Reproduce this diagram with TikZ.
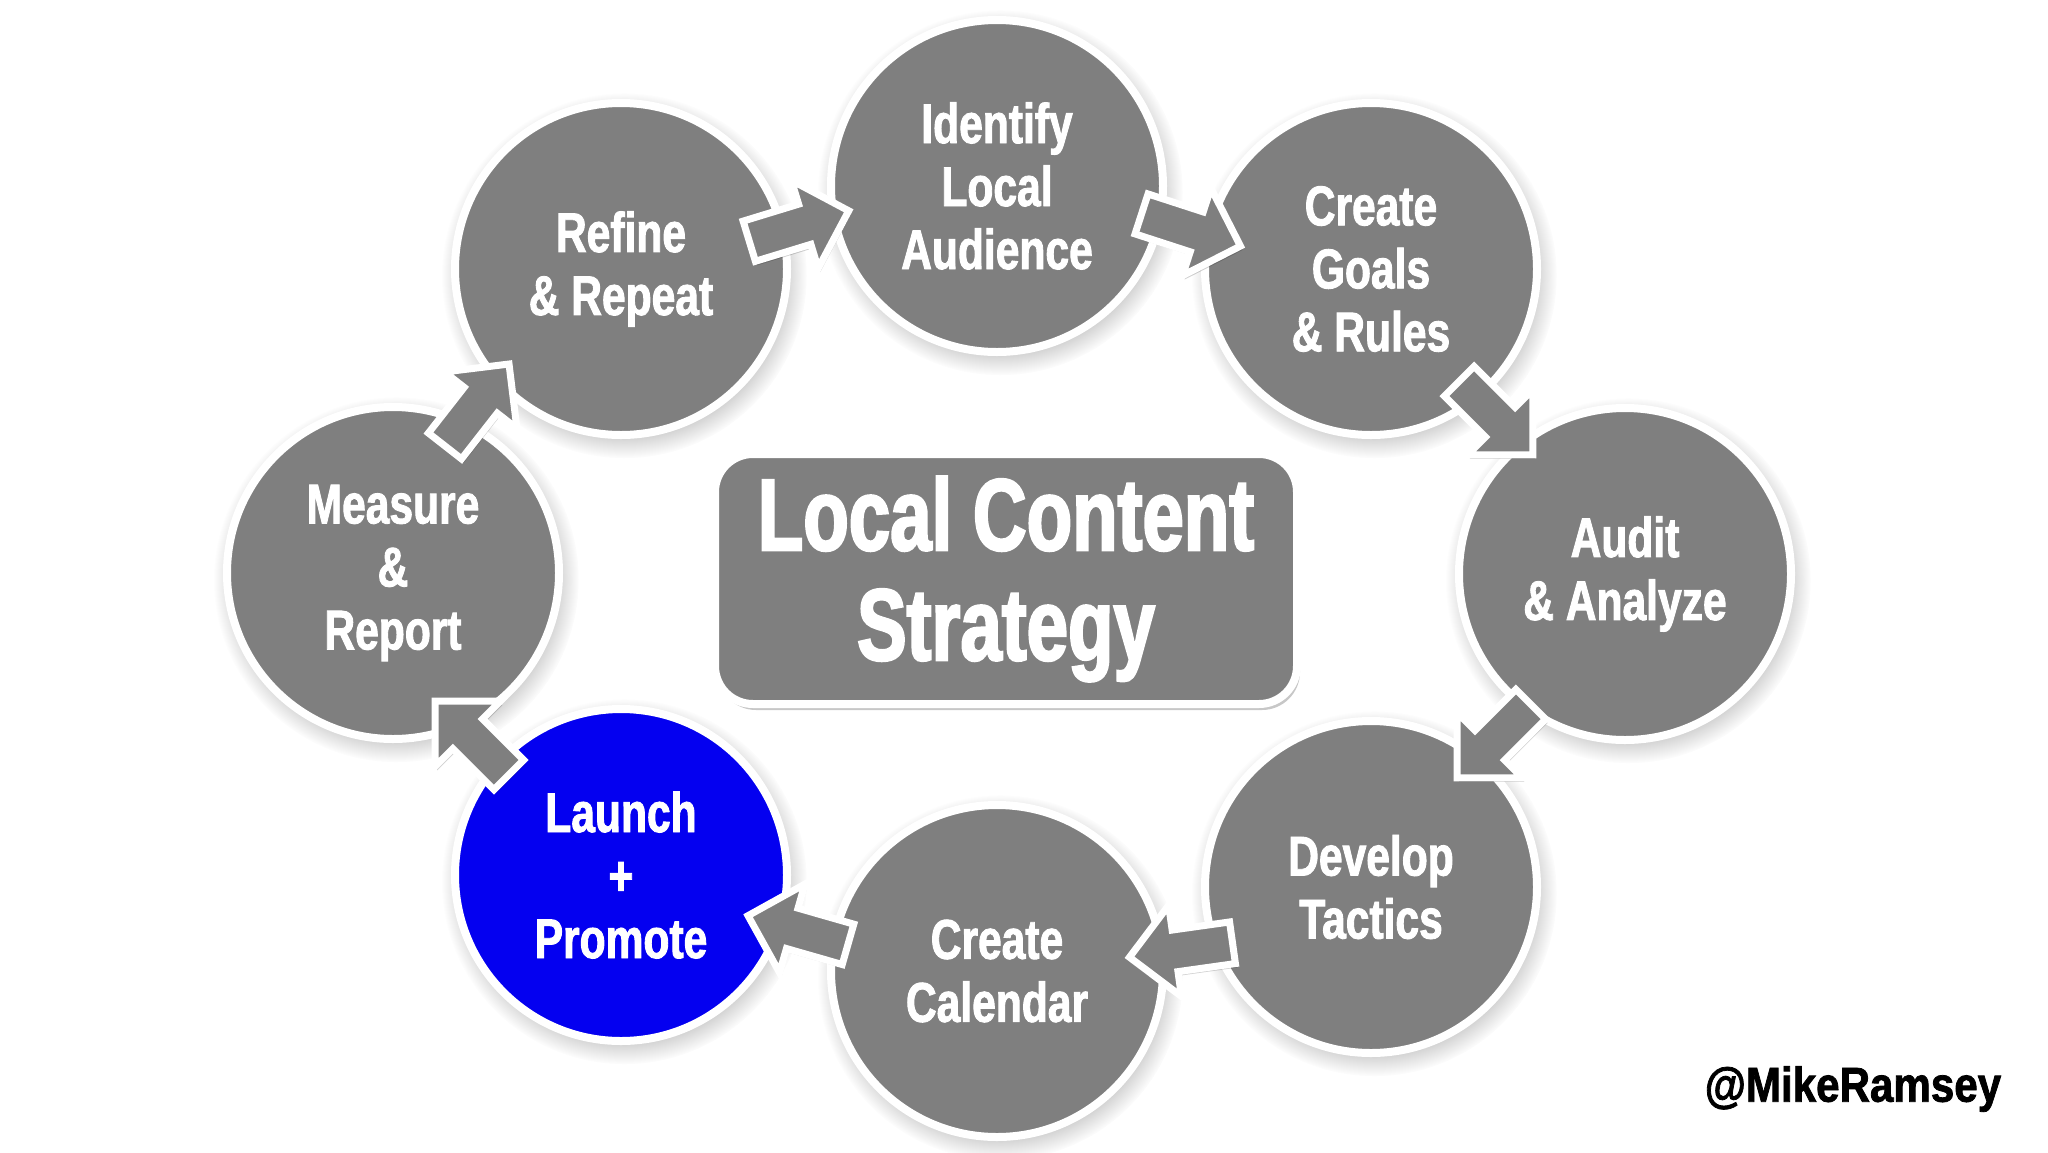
\documentclass[tikz,border=0pt]{standalone}
\usepackage{fontspec}
\newfontfamily\impactfont[FakeStretch=0.76,FakeBold=1.6]{Liberation Sans}
\newfontfamily\titlefont[FakeStretch=0.73,FakeBold=2.2]{Liberation Sans}
\newfontfamily\sigfont[FakeStretch=0.86,FakeBold=1.6]{Liberation Sans}
\usetikzlibrary{shadows}
\definecolor{stagegray}{RGB}{127,127,127}
\definecolor{hotblue}{RGB}{4,0,240}
\tikzset{
  stagecircle/.style={circle, minimum size=332pt, inner sep=0pt, fill=stagegray, draw=white, line width=8pt,
    circular drop shadow={shadow xshift=3pt, shadow yshift=-6pt, opacity=0.22, fill=black},
    text=white, align=center, font=\impactfont\bfseries\fontsize{56}{63}\selectfont},
  hotcircle/.style={stagecircle, fill=hotblue},
  titlebox/.style={rectangle, rounded corners=38pt, minimum width=582pt, minimum height=250pt, inner sep=0pt,
    fill=stagegray, draw=white, line width=8pt,
    drop shadow={shadow xshift=3pt, shadow yshift=-6pt, opacity=0.22, fill=black},
    text=white, align=center, font=\titlefont\bfseries\fontsize{102}{110}\selectfont},
  arrowbody/.style={fill=stagegray, draw=white, line width=7pt, line join=miter,
    drop shadow={shadow xshift=2pt, shadow yshift=-4pt, opacity=0.18, fill=black}},
  flowarrow/.pic={\path[arrowbody] (-52,-21) -- (6,-21) -- (6,-46) -- (52,0) -- (6,46) -- (6,21) -- (-52,21) -- cycle;},
  signature/.style={text=black, inner sep=0pt, font=\sigfont\bfseries\fontsize{49}{55}\selectfont}
}
\newcommand{\lowered}[1]{\raisebox{-5pt}{\begin{tabular}{@{}c@{}}#1\end{tabular}}}
\begin{document}
\begin{tikzpicture}[x=1pt,y=-1pt]
\useasboundingbox[fill=white] (0,0) rectangle (2048,1152);
% stages
\node[stagecircle] (identify) at (997,186) {Identify\\Local\\Audience};
\node[stagecircle] (goals)    at (1371,269) {Create\\Goals\\\& Rules};
\node[stagecircle] (audit)    at (1625,574) {Audit\\\& Analyze};
\node[stagecircle] (develop)  at (1371,887) {Develop\\Tactics};
\node[stagecircle] (calendar) at (997,971) {Create\\Calendar};
\node[hotcircle]   (launch)   at (621,875) {Launch\\+\\Promote};
\node[stagecircle] (measure)  at (393,573) {Measure\\\&\\Report};
\node[stagecircle] (refine)   at (621,269) {Refine\\\& Repeat};
% title
\node[titlebox] (title) at (1006,579) {Local Content\\Strategy};
% block arrows between stages
\pic (a1) [rotate=17]   at (799,226)  {flowarrow};
\pic (a2) [rotate=-18]  at (1191,230) {flowarrow};
\pic (a3) [rotate=-45]  at (1496,418) {flowarrow};
\pic (a4) [rotate=-135] at (1494,741) {flowarrow};
\pic (a5) [rotate=188]  at (1181,950) {flowarrow};
\pic (a6) [rotate=164]  at (798,930)  {flowarrow};
\pic (a7) [rotate=135]  at (472,738)  {flowarrow};
\pic (a8) [rotate=52]   at (477,405)  {flowarrow};
% signature
\node[signature] (sig) at (1853,1089) {@MikeRamsey};
\end{tikzpicture}
\end{document}
